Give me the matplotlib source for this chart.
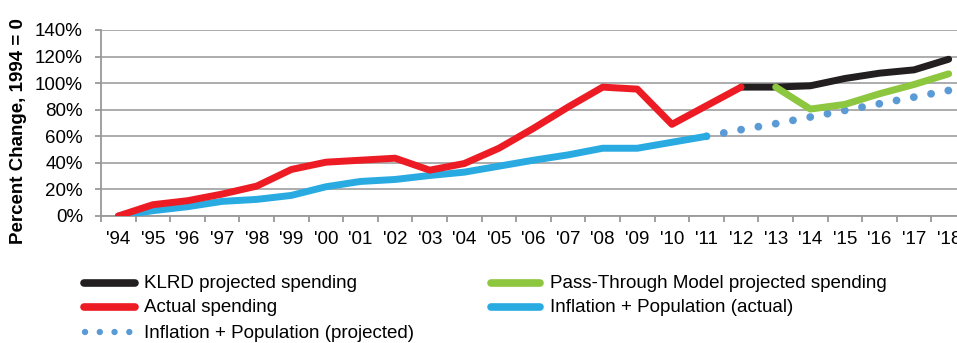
import matplotlib
matplotlib.use("Agg")
import matplotlib.pyplot as plt
from matplotlib.lines import Line2D
import numpy as np

plt.rcParams['font.family'] = ['Liberation Sans', 'DejaVu Sans']

years = ["'94", "'95", "'96", "'97", "'98", "'99", "'00", "'01", "'02", "'03", "'04", "'05",
         "'06", "'07", "'08", "'09", "'10", "'11", "'12", "'13", "'14", "'15", "'16", "'17", "'18"]

actual_years = years[:19]          # '94 - '12
actual_spending = [0, 8.5, 11.5, 16.5, 22.5, 35, 40.5, 42, 43.5, 34.5, 39.5, 51,
                   66, 82, 97, 95.5, 69, 83, 97]

infl_actual_years = years[:18]     # '94 - '11
infl_actual = [0, 4, 7, 11, 12.5, 15.5, 22, 26, 27.5, 30.5, 33, 37.5,
               42, 46, 51, 51, 55.5, 60]

infl_proj_years = years[17:]       # '11 - '18
infl_proj = [60, 65, 69.5, 74.5, 79.5, 84.5, 89.5, 94.5]

klrd_years = years[18:]            # '12 - '18
klrd = [97, 97, 98, 103.5, 107.5, 110, 118]

pass_years = years[19:]            # '13 - '18
pass_through = [97, 80.5, 84, 92, 99, 107]

legend_labels = ["KLRD projected spending", "Actual spending", "Inflation + Population (projected)",
                 "Pass-Through Model projected spending", "Inflation + Population (actual)"]

c_black = '#231f20'
c_red = '#ed1c24'
c_green = '#8dc63f'
c_blue = '#29abe2'
c_dot = '#5b9bd5'

FS = 13.5
W, H = 957, 343
fig = plt.figure(figsize=(W / 100, H / 100), dpi=100)
ax = fig.add_axes([101 / W, (H - 216) / H, 865 / W, 186 / H])

idx = {y: i for i, y in enumerate(years)}
def xs(lbls):
    return [idx[l] for l in lbls]

lw = 5.0
ax.plot(xs(infl_proj_years), infl_proj, color=c_dot, lw=5.6, linestyle=(0, (0.01, 2.25)),
        dash_capstyle='round', zorder=3)
ax.plot(xs(infl_actual_years), infl_actual, color=c_blue, lw=lw, solid_capstyle='round', zorder=4)
ax.plot(xs(actual_years), actual_spending, color=c_red, lw=lw, solid_capstyle='round', zorder=5)
ax.plot(xs(klrd_years), klrd, color=c_black, lw=lw, solid_capstyle='round', zorder=4)
ax.plot(xs(pass_years), pass_through, color=c_green, lw=lw, solid_capstyle='round', zorder=5)

ax.set_xlim(-0.5, len(years) - 0.5)
ax.set_ylim(0, 140)
ax.set_yticks(np.arange(0, 141, 20))
ax.set_yticklabels([f"{v}%" for v in range(0, 141, 20)], fontsize=FS)
ax.set_xticks(range(len(years)))
ax.set_xticklabels(years, fontsize=FS)
ax.set_xticks(np.arange(-0.5, len(years), 1), minor=True)
ax.tick_params(axis='x', which='major', length=0, pad=11)
ax.tick_params(axis='x', which='minor', length=4, color='#999999', width=1.3)
ax.tick_params(axis='y', length=4, color='#999999', width=1.3, pad=9)
ax.grid(axis='y', color='#a6a6a6', lw=1.3)
ax.set_axisbelow(True)
for s in ['top', 'right']:
    ax.spines[s].set_visible(False)
for s in ['left', 'bottom']:
    ax.spines[s].set_color('#999999')
    ax.spines[s].set_linewidth(1.3)

fig.text(19 / W, (H - 131) / H, "Percent Change, 1994 = 0", rotation=90, fontsize=FS,
         fontweight='bold', ha='center', va='center')

# manual legend
def fy(y):
    return (H - y) / H
def fx(x):
    return x / W

lfont = dict(fontsize=FS, va='center', ha='left')
entries = [
    (84, 135, 283, c_black, legend_labels[0], 144),
    (84, 135, 307, c_red, legend_labels[1], 144),
    (491, 540, 283, c_green, legend_labels[3], 550),
    (491, 540, 307, c_blue, legend_labels[4], 550),
]
for x0, x1, y, col, lab, tx in entries:
    fig.add_artist(Line2D([fx(x0), fx(x1)], [fy(y), fy(y)], color=col, lw=5.5,
                          solid_capstyle='round', transform=fig.transFigure))
    fig.text(fx(tx), fy(y + 1), lab, **lfont)
fig.add_artist(Line2D([fx(85), fx(134)], [fy(332), fy(332)], color=c_dot, lw=4.6,
                      linestyle=(0, (0.01, 2.3)), dash_capstyle='round', transform=fig.transFigure))
fig.text(fx(144), fy(333), legend_labels[2], **lfont)

fig.savefig("out.png", dpi=100)
